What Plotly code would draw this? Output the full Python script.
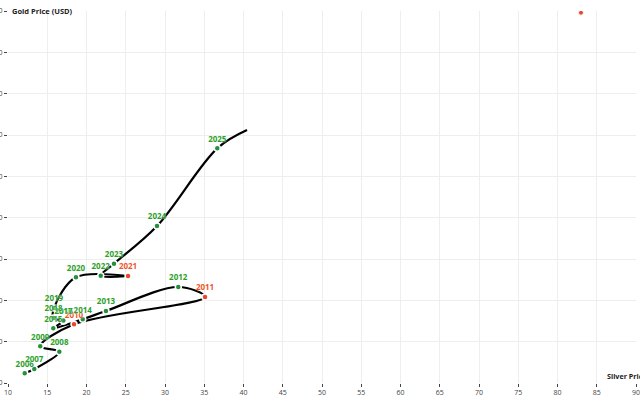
import plotly.graph_objects as go

years = ["2006", "2007", "2008", "2009", "2010", "2011", "2012", "2013", "2014", "2015",
         "2016", "2017", "2018", "2019", "2020", "2021", "2022", "2023", "2024", "2025"]
silver = [12.13, 13.35, 16.54, 14.11, 18.41, 35.10, 31.69, 22.48, 19.52, 15.77,
          17.10, 17.05, 15.80, 15.86, 18.66, 25.29, 21.81, 23.50, 28.98, 36.66]
gold = [617, 669, 879, 944, 1210, 1540, 1661, 1371, 1271, 1162,
        1250, 1257, 1285, 1407, 1779, 1794, 1798, 1943, 2399, 3339]
flagged = ["2010", "2011", "2021"]

# path continues to the latest reading
path_x = silver + [40.45]
path_y = gold + [3560]

# latest spot reading (flagged)
spot_x = [82.99]
spot_y = [4979]

GREEN_T = "#2ca02c"
GREEN_M = "#24913a"
RED_T = "#f0542a"
RED_M = "#e8472a"

mk_colors = [RED_M if y in flagged else GREEN_M for y in years]
tx_colors = [RED_T if y in flagged else GREEN_T for y in years]

fig = go.Figure()
fig.add_trace(go.Scatter(
    x=path_x, y=path_y, mode="lines",
    line=dict(color="black", width=2.2, shape="spline", smoothing=1),
    hoverinfo="skip", showlegend=False))
fig.add_trace(go.Scatter(
    x=silver, y=gold, mode="markers+text", text=years, textposition="top center",
    textfont=dict(family="Open Sans", size=8, color=tx_colors, weight="bold",
                  shadow="0px 0px 2px white"),
    marker=dict(size=6, color=mk_colors, line=dict(color="white", width=1.5)),
    showlegend=False))
fig.add_trace(go.Scatter(
    x=spot_x, y=spot_y, mode="markers",
    marker=dict(size=5, color=RED_M, line=dict(color="white", width=1)),
    showlegend=False))

axis_common = dict(showgrid=True, gridcolor="#eeeeee", gridwidth=1, zeroline=False,
                   ticks="outside", ticklen=3, tickcolor="#444", tickwidth=1,
                   showline=False, ticklabeloverflow="allow",
                   tickfont=dict(family="Open Sans", size=7, color="#444"))
fig.update_xaxes(range=[10, 90], dtick=5, tick0=10, **axis_common)
fig.update_yaxes(range=[500, 5000], dtick=500, tick0=500, **axis_common)

fig.update_layout(
    width=640, height=400,
    margin=dict(l=8, r=4, t=11, b=17, autoexpand=False),
    paper_bgcolor="white", plot_bgcolor="white",
    annotations=[
        dict(text="Gold Price (USD)", xref="paper", yref="paper", x=0.003, y=1,
             xanchor="left", yanchor="middle", showarrow=False,
             font=dict(family="Open Sans", size=7.5, color="#222", weight="bold")),
        dict(text="Silver Price (USD)", xref="paper", yref="paper", x=0.950, y=0,
             xanchor="left", yanchor="bottom", showarrow=False,
             font=dict(family="Open Sans", size=7.2, color="#222", weight="bold")),
    ],
)
fig.write_html("out.html", config={"displayModeBar": False},
               post_script="document.body.style.margin='0px';")
